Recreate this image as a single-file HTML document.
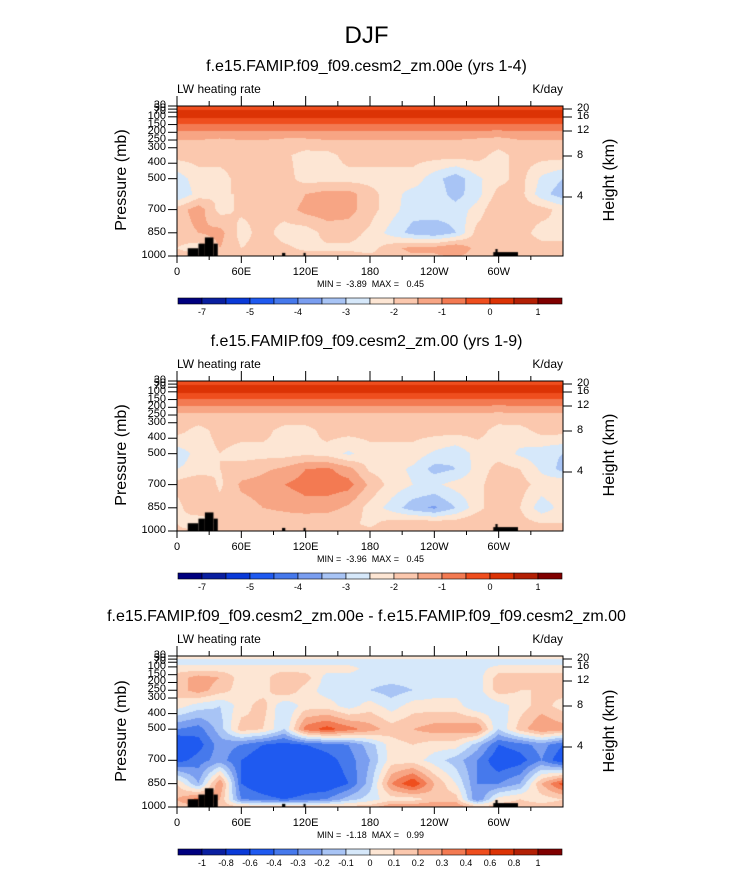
<!DOCTYPE html>
<html><head><meta charset="utf-8">
<style>
html,body{margin:0;padding:0;background:#fff;}
body{width:733px;height:872px;position:relative;overflow:hidden;font-family:"Liberation Sans",sans-serif;color:#000;}
.t{position:absolute;white-space:pre;}
canvas{position:absolute;}
svg{position:absolute;left:0;top:0;}
</style></head>
<body>
<div class="t" style="left:0;width:733px;text-align:center;top:22px;font-size:24px;">DJF</div>
<div id="root"></div>
<svg id="ov" width="733" height="872"></svg>
<script>
const lons = [0,20,40,60,80,100,120,140,160,180,200,220,240,260,280,300,320,340,360];
const pres = [30,70,110,170,250,350,500,600,700,850,950,1000];
const levelsAbs = [-7,-6,-5,-4.5,-4,-3.5,-3,-2.5,-2,-1.5,-1,-0.5,0,0.5,1];
const labelsAbs = ["-7","-5","-4","-3","-2","-1","0","1"];
const levelsDiff = [-1,-0.8,-0.6,-0.4,-0.3,-0.2,-0.1,0,0.1,0.2,0.3,0.4,0.6,0.8,1];
const labelsDiff = ["-1","-0.8","-0.6","-0.4","-0.3","-0.2","-0.1","0","0.1","0.2","0.3","0.4","0.6","0.8","1"];
const colors = ["#00007f","#0a1fa0","#0a3ad8","#1f5af0","#4679ec","#7a9ef0","#a8c4f5","#d6e8fa","#fde6d4","#fbc8ae","#f7a584","#f37a52","#ef4e1e","#dc3305","#b32005","#800000"];
const valsTop = [
[-0.3,-0.3,-0.3,-0.3,-0.3,-0.3,-0.3,-0.3,-0.3,-0.3,-0.3,-0.3,-0.3,-0.3,-0.3,-0.3,-0.3,-0.3,-0.3],
[0.2,0.2,0.2,0.2,0.2,0.2,0.2,0.2,0.2,0.2,0.2,0.2,0.2,0.2,0.2,0.2,0.2,0.2,0.2],
[0,0,0,0,0,0,0,0,0,0,0,0,0,0,0,0,0,0,0],
[-0.8,-0.8,-0.8,-0.8,-0.8,-0.8,-0.8,-0.8,-0.8,-0.8,-0.8,-0.8,-0.8,-0.8,-0.8,-0.8,-0.8,-0.8,-0.8],
[-1.5,-1.5,-1.6,-1.5,-1.5,-1.6,-1.6,-1.5,-1.5,-1.5,-1.5,-1.5,-1.5,-1.5,-1.6,-1.7,-1.5,-1.5,-1.5],
[-1.8,-1.8,-1.8,-1.8,-1.8,-1.9,-2.2,-2.2,-1.8,-1.8,-1.8,-1.8,-1.8,-1.8,-1.8,-2.2,-1.8,-1.8,-1.8],
[-2.8,-2.2,-2.2,-1.8,-1.8,-1.8,-2.2,-2.2,-2.2,-2.2,-2.2,-2.2,-2.8,-3.3,-2.6,-2.2,-1.8,-2.6,-3.0],
[-3.0,-2.3,-2.0,-2.0,-2.0,-2.0,-1.5,-1.3,-1.3,-1.8,-2.3,-2.7,-2.7,-3.2,-2.7,-1.8,-1.8,-2.8,-3.3],
[-1.8,-1.2,-2.2,-1.9,-1.9,-1.8,-1.3,-1.2,-1.3,-1.8,-2.3,-2.8,-2.7,-2.8,-2.3,-1.5,-1.7,-1.8,-2.2],
[-1.8,-1.5,-1.3,-2.2,-1.8,-2.2,-2.3,-1.8,-1.8,-2.1,-2.7,-3.2,-3.4,-3.0,-1.8,-1.6,-1.8,-2.2,-2.0],
[-2.0,-2.3,-1.5,-2.0,-1.8,-1.9,-2.1,-2.1,-2.1,-2.2,-1.7,-1.3,-1.3,-1.0,-1.7,-1.8,-1.8,-1.8,-2.0],
[-1.8,-1.8,-1.8,-1.8,-1.8,-1.8,-1.8,-1.8,-1.8,-1.9,-1.8,-1.6,-1.6,-1.4,-1.8,-1.8,-1.8,-1.8,-1.8]];
const valsMid = [
[-0.3,-0.3,-0.3,-0.3,-0.3,-0.3,-0.3,-0.3,-0.3,-0.3,-0.3,-0.3,-0.3,-0.3,-0.3,-0.3,-0.3,-0.3,-0.3],
[0.2,0.2,0.2,0.2,0.2,0.2,0.2,0.2,0.2,0.2,0.2,0.2,0.2,0.2,0.2,0.2,0.2,0.2,0.2],
[0,0,0,0,0,0,0,0,0,0,0,0,0,0,0,0,0,0,0],
[-0.8,-0.8,-0.8,-0.8,-0.8,-0.8,-0.8,-0.8,-0.8,-0.8,-0.8,-0.8,-0.8,-0.8,-0.8,-0.8,-0.8,-0.8,-0.8],
[-1.6,-1.6,-1.6,-1.6,-1.6,-1.6,-1.6,-1.6,-1.6,-1.6,-1.6,-1.6,-1.6,-1.6,-1.6,-1.7,-1.6,-1.6,-1.6],
[-1.8,-2.2,-1.8,-1.8,-1.8,-2.2,-2.2,-1.8,-1.8,-1.8,-1.8,-1.8,-1.8,-1.8,-1.8,-2.2,-2.2,-1.8,-1.8],
[-2.8,-2.3,-2.0,-2.2,-2.2,-2.2,-2.1,-2.2,-2.6,-2.2,-2.2,-2.2,-2.6,-2.9,-2.3,-2.2,-2.6,-2.8,-3.0],
[-2.5,-2.3,-2.0,-1.8,-1.6,-1.4,-1.0,-0.9,-1.3,-2.1,-2.3,-2.6,-3.2,-3.0,-2.3,-1.8,-2.0,-2.6,-3.2],
[-1.8,-1.5,-2.1,-1.4,-1.3,-1.0,-0.8,-0.7,-0.8,-1.6,-2.2,-2.5,-2.6,-2.3,-2.2,-1.6,-1.8,-2.2,-2.0],
[-2.2,-1.5,-1.8,-1.7,-1.5,-1.4,-1.2,-1.3,-1.6,-2.2,-2.7,-3.3,-3.6,-3.0,-2.2,-1.6,-2.0,-2.8,-2.3],
[-2.0,-2.5,-1.8,-2.0,-1.8,-1.8,-2.0,-1.9,-1.9,-2.1,-1.8,-1.6,-1.7,-1.7,-1.5,-1.8,-1.8,-2.0,-2.0],
[-1.9,-1.9,-1.9,-1.9,-1.9,-1.9,-1.9,-1.9,-1.9,-1.9,-1.9,-1.9,-1.9,-1.9,-1.9,-1.9,-1.9,-1.9,-1.9]];
const valsDiff = [
[0.05,0.05,0.05,0.05,0.05,0.05,0.05,0.05,0.05,0.05,0.05,0.05,0.05,0.05,0.05,0.05,0.05,0.05,0.05],
[-0.05,-0.05,-0.05,-0.05,-0.05,-0.05,-0.05,-0.05,-0.05,-0.05,-0.05,-0.05,-0.05,-0.05,-0.05,-0.05,-0.05,-0.05,-0.05],
[0.05,0.05,0.05,0.05,0.05,0.05,0.05,0.05,0.05,-0.05,-0.05,-0.05,-0.05,-0.05,-0.05,0.05,0.05,0.05,0.05],
[0.15,0.25,0.2,0.05,0.05,0.2,0.15,-0.05,-0.05,-0.05,-0.05,-0.05,-0.05,-0.05,-0.05,0.15,0.15,0.15,0.15],
[0.15,0.25,0.15,0.05,0.05,0.2,0.05,-0.05,-0.05,-0.1,-0.15,-0.1,-0.05,-0.05,-0.05,0.15,0.1,0.1,0.15],
[0.05,-0.05,-0.1,0.05,0.15,-0.1,0.05,0.05,-0.05,0.05,-0.05,0.05,0.05,0.05,-0.1,-0.05,0.05,0.15,0.05],
[-0.3,-0.35,-0.15,0.15,0.1,-0.1,0.35,0.45,0.35,0.25,0.15,0.2,0.25,0.25,0.3,-0.1,0.15,0.3,0.25],
[-0.55,-0.45,-0.25,-0.3,-0.4,-0.45,-0.4,-0.35,-0.3,-0.15,0.05,0.1,0.05,0.05,-0.15,-0.4,-0.35,-0.25,-0.4],
[-0.45,-0.35,-0.25,-0.4,-0.5,-0.55,-0.5,-0.45,-0.35,-0.2,0.05,0.05,-0.05,-0.15,-0.3,-0.5,-0.45,-0.3,-0.5],
[0.1,-0.2,0.3,-0.4,-0.5,-0.6,-0.5,-0.5,-0.4,-0.15,0.3,0.5,0.2,0.0,-0.3,-0.3,-0.2,0.2,0.45],
[0.2,0.35,0.2,-0.3,-0.35,-0.4,-0.35,-0.3,-0.15,-0.05,0.05,0.05,0.15,0.15,-0.3,0.05,0.1,0.05,0.1],
[0.15,0.15,0.15,0.15,0.15,0.15,0.15,0.15,0.15,0.15,0.3,0.3,0.3,0.3,0.15,0.15,0.15,0.15,0.15]];
const topoStart = [10,20,26,34,98,118,295,297];
const topoEnd = [20,26,34,38,101,120,318,299];
const topoTop = [950,920,880,920,980,980,975,955];
const presTicks = [1000,850,700,500,400,300,250,200,150,100,70,50,30];
const kmTicks = [20,16,12,8,4];
const kmOffsets = [3,11,25,50,91];
const lonTickLabels = ["0","60E","120E","180","120W","60W"];
const panels = [
 {y:106,h:150,vals:valsTop,lev:levelsAbs,lab:labelsAbs,title:"f.e15.FAMIP.f09_f09.cesm2_zm.00e (yrs 1-4)",mm:"MIN =  -3.89  MAX =   0.45",name:"panel-1"},
 {y:381,h:150,vals:valsMid,lev:levelsAbs,lab:labelsAbs,title:"f.e15.FAMIP.f09_f09.cesm2_zm.00 (yrs 1-9)",mm:"MIN =  -3.96  MAX =   0.45",name:"panel-2"},
 {y:656,h:151,vals:valsDiff,lev:levelsDiff,lab:labelsDiff,title:"f.e15.FAMIP.f09_f09.cesm2_zm.00e - f.e15.FAMIP.f09_f09.cesm2_zm.00",mm:"MIN =  -1.18  MAX =   0.99",name:"panel-3"}
];
const X0=177, W=386;
const root=document.getElementById('root');
const ov=document.getElementById('ov');
const NS='http://www.w3.org/2000/svg';
function hex(c){return [parseInt(c.slice(1,3),16),parseInt(c.slice(3,5),16),parseInt(c.slice(5,7),16)];}
const rgb=colors.map(hex);
function interp(vals,lon,p){
 let i=0; while(i<lons.length-2 && lon>lons[i+1]) i++;
 let j=0; while(j<pres.length-2 && p>pres[j+1]) j++;
 const fx=(lon-lons[i])/(lons[i+1]-lons[i]);
 const fy=Math.max(0,Math.min(1,(p-pres[j])/(pres[j+1]-pres[j])));
 const a=vals[j][i],b=vals[j][i+1],c=vals[j+1][i],d=vals[j+1][i+1];
 return (a*(1-fx)+b*fx)*(1-fy)+(c*(1-fx)+d*fx)*fy;
}
function colIdx(v,lev){let k=0;while(k<lev.length&&v>=lev[k])k++;return k;}
function addDiv(txt,name,style){const d=document.createElement('div');d.className='t';d.textContent=txt;
 
 
 d.setAttribute('style',style);root.appendChild(d);return d;}
function line(x1,y1,x2,y2,name,w){const l=document.createElementNS(NS,'line');
 l.setAttribute('x1',x1);l.setAttribute('y1',y1);l.setAttribute('x2',x2);l.setAttribute('y2',y2);
 l.setAttribute('stroke','#000');l.setAttribute('stroke-width',w||1);
 
 
 ov.appendChild(l);}
panels.forEach(P=>{
 const py=p=>P.y+(p-30)/970*P.h;
 const lx=l=>X0+l/360*W;
 const cv=document.createElement('canvas');cv.width=W;cv.height=P.h;
 cv.style.left=X0+'px';cv.style.top=P.y+'px';
 
 
 root.appendChild(cv);
 const ctx=cv.getContext('2d');const img=ctx.createImageData(W,P.h);
 for(let y=0;y<P.h;y++){const p=30+(y+0.5)/P.h*970;
  for(let x=0;x<W;x++){const lon=(x+0.5)/W*360;const c=rgb[colIdx(interp(P.vals,lon,p),P.lev)];
   const o=(y*W+x)*4;img.data[o]=c[0];img.data[o+1]=c[1];img.data[o+2]=c[2];img.data[o+3]=255;}}
 ctx.putImageData(img,0,0);
 ctx.fillStyle='#000';
 for(let k=0;k<topoStart.length;k++){const x1=topoStart[k]/360*W,x2=topoEnd[k]/360*W;const yt=(topoTop[k]-30)/970*P.h;ctx.fillRect(x1,yt,x2-x1,P.h-yt);}
 const r=document.createElementNS(NS,'rect');r.setAttribute('x',X0);r.setAttribute('y',P.y);r.setAttribute('width',W);r.setAttribute('height',P.h);
 r.setAttribute('fill','none');r.setAttribute('stroke','#000');r.setAttribute('stroke-width','1');
 
 
 ov.appendChild(r);
 for(let l=0;l<360;l+=30){const major=l%60===0;const x=lx(l);
  line(x,P.y,x,P.y-(major?10:5),'x-tick-top');
  line(x,P.y+P.h,x,P.y+P.h+(major?7:4),'x-tick-bottom');}
 lonTickLabels.forEach((t,k)=>addDiv(t,'x-tick-label',`left:${lx(k*60)-30}px;width:60px;text-align:center;top:${P.y+P.h+10}px;font-size:11px;`));
 presTicks.forEach(p=>{const y=py(p);line(X0-9,y,X0,y,'y-tick-left');
  addDiv(String(p),'y-tick-label',`left:${X0-60}px;width:49px;text-align:right;top:${y-7}px;font-size:11px;`);});
 kmTicks.forEach((k,i)=>{const y=P.y+kmOffsets[i];line(X0+W,y,X0+W+9,y,'height-tick');
  addDiv(String(k),'height-tick-label',`left:${X0+W+14}px;top:${y-7}px;font-size:11px;`);});
 addDiv(P.title,'panel-title',`left:0;width:733px;text-align:center;top:${P.y-48}px;font-size:16px;`);
 addDiv('LW heating rate','variable-label',`left:${X0}px;top:${P.y-24}px;font-size:12px;`);
 addDiv('K/day','units-label',`left:${X0+W-60}px;width:60px;text-align:right;top:${P.y-24}px;font-size:12px;`);
 addDiv('Pressure (mb)','y-axis-title',`left:${122-60}px;width:120px;text-align:center;top:${P.y+P.h/2-10}px;font-size:16px;transform:rotate(-90deg);`);
 addDiv('Height (km)','right-axis-title',`left:${610-60}px;width:120px;text-align:center;top:${P.y+P.h/2-10}px;font-size:16px;transform:rotate(-90deg);`);
 addDiv(P.mm,'min-max-label',`left:0;width:733px;text-align:center;padding-left:8px;box-sizing:border-box;top:${P.y+P.h+23}px;font-size:9px;`);
 const cy=P.y+P.h+42, cw=384/16;
 colors.forEach((c,k)=>{const b=document.createElementNS(NS,'rect');b.setAttribute('x',178+k*cw);b.setAttribute('y',cy);b.setAttribute('width',cw);b.setAttribute('height',6);
  b.setAttribute('fill',c);b.setAttribute('stroke','#000');b.setAttribute('stroke-width','0.6');
  
  
  ov.appendChild(b);});
 const step=P.lab.length===8?2:1;
 P.lab.forEach((t,k)=>{const x=178+(1+k*step)*cw;
  addDiv(t,'colorbar-label',`left:${x-20}px;width:40px;text-align:center;top:${cy+9}px;font-size:9px;`);});
});
</script>
</body></html>
